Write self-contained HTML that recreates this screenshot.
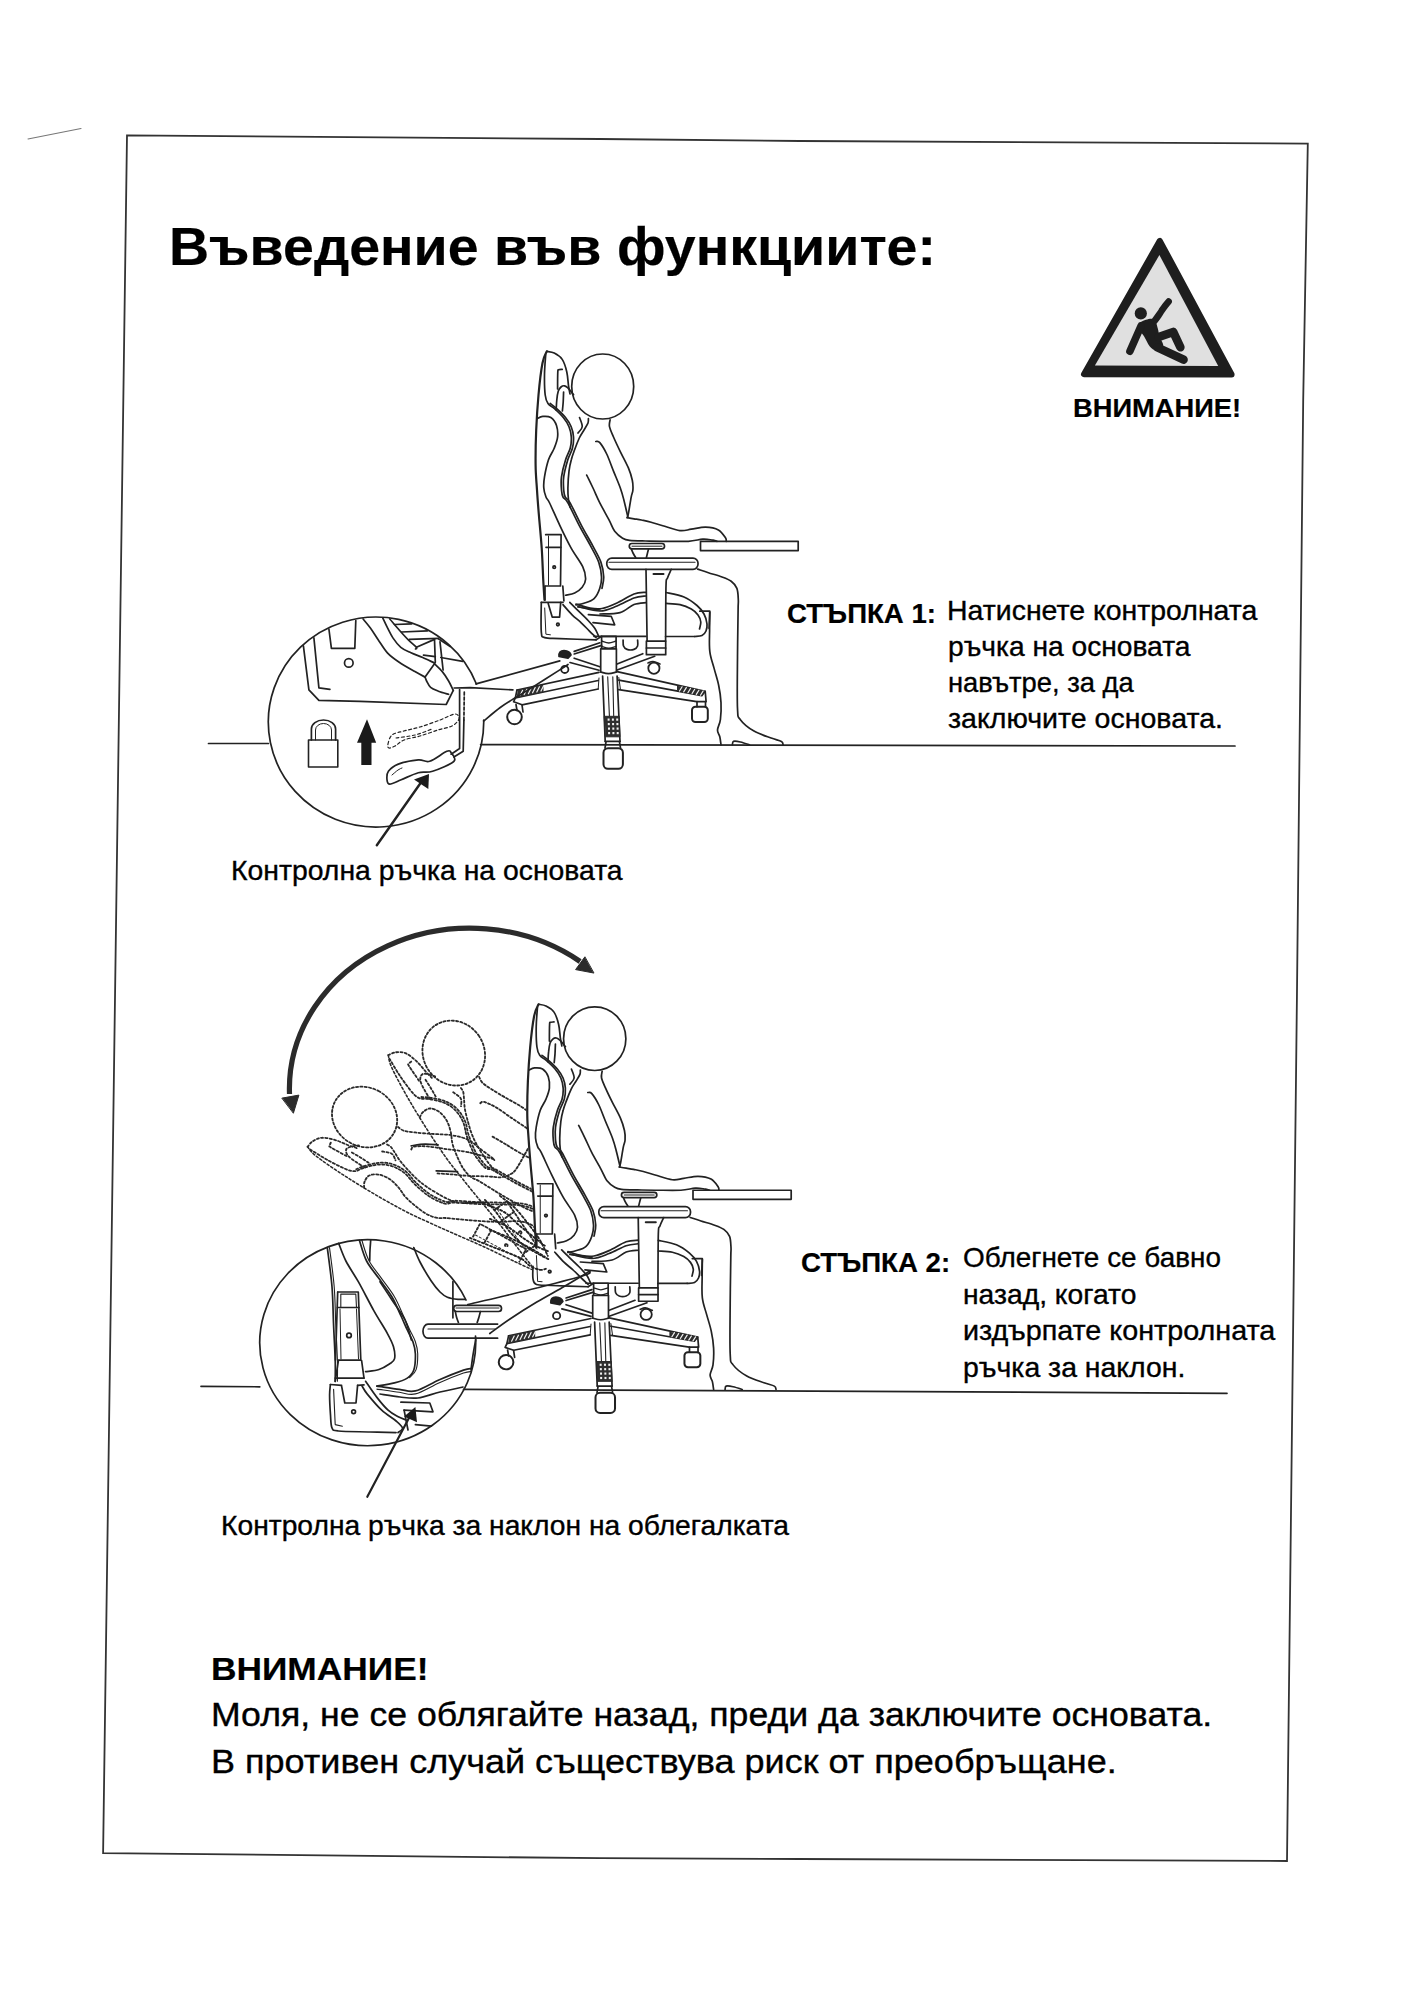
<!DOCTYPE html>
<html><head><meta charset="utf-8">
<style>
html,body{margin:0;padding:0;}
body{width:1403px;height:2000px;background:#ffffff;position:relative;overflow:hidden;font-family:"Liberation Sans",sans-serif;color:#000;}
.t{position:absolute;white-space:nowrap;line-height:1;transform-origin:0 0;-webkit-text-stroke:0.35px #000;}
.b{font-weight:bold;-webkit-text-stroke:0.2px #000;}
svg{position:absolute;left:0;top:0;}
</style></head><body>
<svg width="1403" height="2000" viewBox="0 0 1403 2000" fill="none" stroke="#222" stroke-width="1.7" stroke-linejoin="round" stroke-linecap="round">
<path d="M127 135.3 L600 139 L800 141 L1307.8 143.6 L1303.2 400 L1296.9 1000 L1287 1861 L800 1859 L600 1858.2 L103.1 1853.1 Z" stroke-width="1.8" stroke="#333" stroke-linejoin="miter"/>
<path d="M28 139 L81 128.5" stroke-width="1.1" stroke="#777"/>
<path d="M1159.8 240.8 L1084 374.2 L1231.6 374.5Z" fill="#1e1e1e" stroke="#1e1e1e" stroke-width="6" stroke-linejoin="round"/>
<path d="M1159.4 254.9 L1094.9 365.6 L1218.2 366.1Z" fill="#e0e0e0" stroke="none"/>
<circle cx="1140.8" cy="313.4" r="6.1" fill="#1e1e1e" stroke="none"/>
<path d="M1138.9 324.0C1139.8 322.0 1143.3 320.6 1145.9 319.8C1148.5 319.1 1152.3 318.1 1154.3 319.5C1156.3 320.9 1156.9 325.7 1157.8 328.5C1158.7 331.3 1158.5 333.3 1159.4 336.2C1160.3 339.1 1163.7 343.4 1163.2 345.8C1162.7 348.2 1158.4 350.2 1156.2 350.3C1154.0 350.4 1151.8 348.8 1149.8 346.4C1147.8 344.0 1145.5 338.6 1144.0 336.2C1142.5 333.8 1141.6 333.7 1140.8 331.7C1140.0 329.7 1138.1 326.0 1138.9 324.0Z" fill="#1e1e1e" stroke="none"/>
<g stroke="#1e1e1e" stroke-linecap="round" stroke-linejoin="round" fill="none">
<path d="M1141 326 L1129.9 351.3" stroke-width="7.5"/>
<path d="M1154.5 321.0C1155.2 320.1 1157.3 317.2 1158.5 315.5C1159.7 313.8 1160.4 312.6 1161.5 311.0C1162.6 309.4 1163.8 307.6 1165.0 306.0C1166.2 304.4 1168.0 302.3 1168.6 301.6" stroke-width="6.6"/>
<path d="M1158.7 337 L1173.2 331.9 L1180.4 347.3" stroke-width="8.5"/>
<path d="M1157.5 347.5 L1183.6 359.7" stroke-width="8.5"/>
</g>
<path d="M546.8 351.4C546.1 353.3 543.9 355.7 542.5 363.0C541.1 370.3 539.5 383.8 538.5 395.0C537.5 406.2 536.7 418.3 536.2 430.0C535.7 441.7 535.5 455.0 535.6 465.0C535.7 475.0 536.5 481.8 537.0 490.0C537.5 498.2 538.0 504.3 538.8 514.0C539.6 523.7 540.9 536.5 541.7 548.0C542.5 559.5 542.9 574.3 543.4 583.0C543.9 591.7 544.3 597.2 544.5 600.0" stroke-width="2.2"/>
<path d="M546.8 351.4C548.0 351.7 551.6 351.8 554.2 353.1C556.8 354.4 560.1 356.2 562.2 359.4C564.3 362.5 565.8 367.6 566.8 372.0C567.8 376.4 568.0 381.9 568.5 385.6C569.0 389.3 569.8 392.6 570.0 394.0" />
<path d="M545.7 354.8C545.5 358.0 544.6 367.5 544.5 374.2C544.4 380.9 544.6 390.1 545.2 395.0C545.8 399.9 546.5 401.3 548.0 403.5C549.5 405.7 551.7 406.1 554.2 408.4C556.8 410.7 560.8 414.4 563.3 417.5C565.8 420.6 567.7 423.4 569.0 426.7C570.3 429.9 571.1 433.4 571.3 437.0C571.5 440.6 571.2 444.5 570.2 448.3C569.2 452.1 567.1 454.9 565.6 459.7C564.1 464.4 562.2 471.8 561.5 476.8C560.8 481.9 561.2 486.6 561.5 490.0C561.8 493.4 561.9 494.9 563.0 497.0C564.1 499.1 565.2 498.0 567.9 502.8C570.6 507.6 575.5 518.4 579.3 525.6C583.1 532.8 587.5 540.0 590.7 546.1C593.9 552.2 596.9 557.0 598.7 562.1C600.5 567.2 601.3 572.5 601.5 576.9C601.7 581.3 601.0 584.7 599.8 588.3C598.6 591.9 596.8 596.1 594.1 598.6C591.5 601.1 586.9 602.2 583.9 603.2C580.9 604.2 577.2 604.6 575.9 604.9" />
<path d="M550.2 403.5C551.2 404.3 553.9 406.1 556.4 408.4C559.0 410.7 563.0 414.4 565.5 417.5C568.0 420.6 569.9 423.4 571.2 426.7C572.5 429.9 573.3 433.4 573.5 437.0C573.7 440.6 573.4 444.5 572.4 448.3C571.5 452.1 569.3 454.9 567.8 459.7C566.4 464.4 564.4 471.8 563.7 476.8C563.0 481.9 563.5 486.6 563.7 490.0C564.0 493.4 564.1 494.9 565.2 497.0C566.3 499.1 567.4 498.0 570.1 502.8C572.8 507.6 577.7 518.4 581.5 525.6C585.3 532.8 589.7 540.0 592.9 546.1C596.1 552.2 599.1 557.0 600.9 562.1C602.7 567.2 603.5 572.5 603.7 576.9C603.9 581.3 602.3 586.4 602.0 588.3" />
<path d="M537.1 418.7C538.0 418.3 540.5 416.6 542.8 416.4C545.1 416.2 548.5 416.0 550.8 417.5C553.1 419.0 555.4 422.2 556.5 425.5C557.6 428.8 558.0 433.2 557.6 437.0C557.2 440.8 555.7 444.5 554.2 448.3C552.7 452.1 550.1 454.9 548.5 459.7C546.9 464.4 545.3 472.1 544.5 476.8C543.7 481.5 543.5 484.6 543.8 488.0C544.0 491.4 545.0 494.5 546.0 497.0C547.0 499.5 547.3 498.2 549.6 503.0C551.9 507.8 556.3 518.0 559.9 525.6C563.5 533.2 567.5 541.5 571.3 548.4C575.1 555.2 580.3 561.6 582.7 566.7C585.1 571.8 585.7 575.8 585.6 579.2C585.5 582.6 584.0 584.9 582.2 587.2C580.4 589.5 577.5 591.6 574.7 592.9C571.9 594.2 567.1 594.8 565.6 595.2" />
<path d="M557.6 389.0C557.6 386.2 557.6 375.2 557.8 372.0C558.0 368.8 557.9 370.2 558.6 369.8C559.3 369.4 561.6 369.5 562.2 369.4" />
<path d="M556.2 410.0C556.3 408.3 556.4 403.2 556.8 400.0C557.1 396.8 557.6 393.2 558.3 391.0C559.0 388.8 560.0 387.9 561.0 387.0C562.0 386.1 563.3 385.6 564.5 385.8C565.7 386.0 566.9 387.1 568.0 388.0C569.1 388.9 570.1 390.4 571.0 391.5C571.9 392.6 573.2 394.2 573.6 394.7" />
<path d="M563.6 392.0C563.5 393.7 563.4 398.8 563.2 402.0C563.0 405.2 562.5 409.5 562.4 411.0" />
<ellipse cx="602.7" cy="386.5" rx="31" ry="32.5"/>
<path d="M588.4 418.5C588.3 419.2 588.7 421.1 588.0 423.0C587.3 424.9 585.5 427.5 584.0 430.0C582.5 432.5 580.8 434.8 579.3 438.0C577.8 441.2 576.0 445.9 574.7 449.5C573.4 453.1 572.2 456.1 571.3 459.7C570.3 463.3 569.6 466.4 569.0 471.1C568.4 475.9 568.0 483.4 567.9 488.2C567.8 493.0 568.1 496.8 568.5 500.0C568.9 503.2 569.9 506.2 570.2 507.4" />
<path d="M579.5 417.5C580.0 419.0 582.5 424.1 582.2 426.7C582.0 429.3 578.7 431.9 578.0 433.0" />
<path d="M610.1 419.8C610.0 420.9 608.9 423.8 609.5 426.7C610.1 429.6 611.7 432.8 613.5 437.0C615.3 441.2 617.9 446.7 620.4 451.8C622.9 456.9 626.3 462.9 628.3 467.7C630.3 472.4 631.5 476.6 632.3 480.3C633.1 484.0 633.1 487.2 632.9 490.0C632.7 492.8 632.0 493.1 631.2 497.1C630.4 501.1 629.0 510.8 628.3 514.2C627.6 517.6 627.4 517.0 627.2 517.6" />
<path d="M595.8 441.5C596.5 441.7 598.0 440.5 599.8 442.6C601.6 444.7 604.4 449.2 606.7 454.0C609.0 458.8 611.2 465.4 613.5 471.1C615.8 476.8 618.7 483.4 620.4 488.2C622.1 493.0 622.6 495.0 623.8 499.7C625.0 504.4 627.1 513.7 627.8 516.5" />
<path d="M586.7 475.1C587.8 477.2 590.8 483.4 593.0 488.0C595.2 492.6 597.1 497.5 599.8 502.8C602.5 508.1 606.5 515.1 609.0 519.9C611.5 524.6 612.4 528.2 614.7 531.3C617.0 534.3 620.1 536.7 622.6 538.2C625.1 539.7 625.7 539.9 629.5 540.4C633.3 540.9 639.9 540.9 645.4 541.0C650.9 541.1 655.6 541.2 662.8 541.3C670.0 541.3 681.8 541.6 688.4 541.3C695.0 540.9 698.9 539.4 702.7 539.2C706.5 539.0 708.8 539.5 711.2 539.9C713.6 540.2 716.0 541.1 717.0 541.3" />
<path d="M545.7 534.7 L561.1 534.7 L560.5 586.0 L545.5 586.0" />
<path d="M546.0 547.3 L560.8 547.3" />
<path d="M548.5 536.0 L548.5 585.0" stroke-width="1"/>
<circle cx="554.2" cy="567.2" r="1.3"/>
<path d="M627.2 517.6C628.3 517.8 631.6 518.4 634.0 518.8C636.4 519.2 638.5 519.4 641.4 520.0C644.2 520.6 647.5 521.2 651.1 522.2C654.7 523.2 658.0 524.3 662.8 525.7C667.6 527.1 675.1 530.0 679.9 530.6C684.6 531.2 687.0 529.8 691.3 529.2C695.6 528.6 701.0 527.0 705.5 527.1C710.0 527.2 715.1 528.1 718.4 529.9C721.7 531.7 724.2 535.9 725.5 537.8C726.8 539.7 726.1 540.7 726.2 541.3" />
<rect x="700.5" y="541.3" width="97.7" height="9.3"/>
<path d="M697.7 569.1C699.5 569.7 704.4 571.4 708.4 572.7C712.4 574.0 718.2 575.6 722.0 577.0C725.8 578.4 728.7 579.4 731.2 581.3C733.7 583.2 735.7 585.3 736.9 588.4C738.1 591.5 738.1 596.2 738.3 599.8C738.5 603.4 738.2 600.5 738.1 610.0C738.0 619.5 737.6 640.6 737.5 657.0C737.4 673.4 737.0 697.8 737.5 708.3C738.0 718.8 737.6 715.9 740.4 719.7C743.1 723.5 748.9 728.1 754.0 731.1C759.1 734.1 766.5 736.3 771.1 738.0C775.7 739.7 779.4 740.3 781.4 741.4C783.4 742.5 782.8 744.2 783.1 744.8" />
<path d="M709.8 612.0C709.8 615.0 709.6 623.5 709.6 630.0C709.6 636.5 709.0 644.9 709.8 651.3C710.5 657.7 712.6 662.7 714.1 668.4C715.6 674.1 717.6 679.8 718.7 685.5C719.9 691.2 720.7 696.9 721.0 702.6C721.3 708.3 721.0 715.1 720.4 719.7C719.8 724.3 717.6 727.1 717.5 730.0C717.4 732.9 719.2 734.3 719.8 736.8C720.4 739.3 720.8 743.5 721.0 744.8" />
<path d="M732.4 744.8C732.6 744.2 732.2 741.9 733.5 741.4C734.8 740.9 737.7 741.4 740.4 742.0C743.1 742.6 748.0 744.3 749.5 744.8" />
<rect x="629.3" y="543.5" width="35.2" height="5.3" rx="2.6"/>
<path d="M632.0 546.2 L662.0 546.2" stroke-width="1"/>
<path d="M631.4 549.2C631.7 549.8 632.3 551.6 633.0 553.0C633.7 554.4 635.2 556.8 635.7 557.5" />
<path d="M648.5 549.2C648.3 549.8 647.9 551.6 647.5 553.0C647.1 554.4 646.6 556.8 646.4 557.5" />
<rect x="606.8" y="558.1" width="91.2" height="11.2" rx="5"/>
<path d="M609.0 562.3 L695.0 562.3" stroke-width="1.1"/>
<path d="M646.0 569.3 L647.1 641.1" />
<path d="M671.3 569.3C670.7 570.8 668.4 575.2 667.5 578.0C666.6 580.8 666.3 575.5 666.0 586.0C665.7 596.5 665.7 631.9 665.6 641.1" />
<path d="M653.5 574.1 L663.5 574.1" stroke-width="2"/>
<rect x="646.4" y="641.1" width="19.3" height="13.6"/>
<path d="M646.4 648.0 L665.7 648.0" />
<path d="M576.0 604.0C578.3 604.7 585.7 607.2 590.0 608.0C594.3 608.8 597.5 609.3 602.0 608.5C606.5 607.7 611.7 605.4 617.0 603.0C622.3 600.6 629.2 595.8 634.0 594.0C638.8 592.2 644.0 592.6 646.0 592.3" />
<path d="M578.0 606.5C581.7 607.2 593.5 611.1 600.0 611.0C606.5 610.9 611.3 608.2 617.0 606.0C622.7 603.8 629.2 599.7 634.0 598.0C638.8 596.3 644.0 596.3 646.0 596.0" />
<path d="M600.0 614.0C603.3 613.8 614.3 614.2 620.0 612.6C625.7 611.0 629.7 606.2 634.0 604.5C638.3 602.8 644.0 602.9 646.0 602.6" />
<path d="M666.0 592.5C669.0 593.2 678.8 594.8 684.0 597.0C689.2 599.2 693.7 602.7 697.0 605.5C700.3 608.3 702.3 610.9 704.0 614.0C705.7 617.1 706.7 621.2 707.0 624.0C707.3 626.8 706.8 629.1 706.0 631.0C705.2 632.9 703.9 634.6 702.0 635.5C700.1 636.4 695.9 636.3 694.7 636.5" />
<path d="M666.0 603.4C668.3 603.6 675.8 603.6 680.0 604.6C684.2 605.6 688.3 607.4 691.3 609.1C694.3 610.8 696.4 612.9 698.0 615.0C699.6 617.1 700.5 619.7 700.8 622.0C701.0 624.3 699.7 627.8 699.5 629.0" />
<path d="M594.0 636.3 L646.0 636.3" />
<path d="M665.6 636.5 L694.7 636.5" />
<path d="M699.8 611.2 L709.8 611.2 L709.1 628.3" />
<path d="M545.0 586.0 L545.0 600.0" />
<path d="M562.8 586.0 L563.9 600.9" />
<path d="M541.3 602.3C541.3 607.2 540.7 626.0 541.3 631.9C541.9 637.8 541.6 636.5 544.7 637.6C547.8 638.7 551.4 638.2 560.0 638.6C568.6 639.0 590.1 639.7 596.1 639.9" />
<path d="M541.3 602.3 L563.0 602.3" />
<path d="M548.2 603.4 L552.2 617.1 L559.6 617.1 L560.7 602.3" />
<circle cx="557.9" cy="624.5" r="1.3"/>
<path d="M544.7 608.0 L545.9 634.2 L550.4 634.8" stroke-width="1"/>
<path d="M563.0 604.6C564.5 606.3 569.1 611.8 572.1 614.8C575.1 617.8 578.4 620.1 581.2 622.8C584.1 625.5 586.7 628.3 589.2 630.8C591.7 633.3 595.0 636.5 596.1 637.6" />
<path d="M569.8 602.3C571.3 603.8 575.8 608.4 578.9 611.4C582.0 614.4 585.4 617.6 588.1 620.5C590.8 623.4 593.2 626.0 594.9 628.5C596.6 631.0 597.7 634.2 598.3 635.4" />
<path d="M588.4 614.6 L611.2 616.3 L614.7 624.8 L593.0 622.6" />
<path d="M578.0 607.0 L600.0 610.0" />
<path d="M596.1 639.9 L601.6 636.3" />
<rect x="601.6" y="636.3" width="14.5" height="12.5"/>
<path d="M601.8 641.0C603.0 641.3 606.4 643.0 608.8 643.0C611.1 643.0 614.7 641.3 615.9 641.0" stroke-width="1.3"/>
<path d="M601.8 646.5C603.0 646.8 606.4 648.2 608.8 648.2C611.1 648.2 614.7 646.8 615.9 646.5" stroke-width="1.3"/>
<path d="M600.7 648.8 L600.7 672.0" />
<path d="M616.4 648.8 L616.4 672.0" />
<path d="M600.7 672.0C602.0 672.3 605.9 673.6 608.5 673.6C611.1 673.6 615.1 672.3 616.4 672.0" />
<path d="M623.1 640.0C623.2 641.0 622.9 644.4 623.5 646.0C624.1 647.6 625.2 648.8 627.0 649.4C628.8 650.0 632.2 650.0 634.0 649.4C635.8 648.8 637.0 647.6 637.6 646.0C638.2 644.4 637.6 641.0 637.6 640.0" />
<path d="M602.6 676.0 L605.2 741.4" />
<path d="M617.1 676.0 L620.0 741.4" />
<path d="M607.7 676.8 L609.4 716.0" stroke-width="1.1"/>
<path d="M612.8 676.8 L613.7 716.0" stroke-width="1.1"/>
<path d="M599.0 678.0 L598.2 689.0" stroke-width="1"/>
<path d="M618.8 677.5 L620.4 689.0" stroke-width="1"/>
<path d="M604.6 716.3 L619.2 716.3 L620 736.8 L605.6 736.8Z" fill="#2e2e2e" stroke="#2a2a2a" stroke-width="1"/>
<rect x="607.6" y="718.5" width="2" height="2.2" fill="#f2f2f2" stroke="none"/>
<rect x="611.9" y="718.5" width="2" height="2.2" fill="#f2f2f2" stroke="none"/>
<rect x="616.2" y="718.5" width="2" height="2.2" fill="#f2f2f2" stroke="none"/>
<rect x="607.8" y="723" width="2" height="2.2" fill="#f2f2f2" stroke="none"/>
<rect x="612.1" y="723" width="2" height="2.2" fill="#f2f2f2" stroke="none"/>
<rect x="616.4" y="723" width="2" height="2.2" fill="#f2f2f2" stroke="none"/>
<rect x="608.0" y="727.5" width="2" height="2.2" fill="#f2f2f2" stroke="none"/>
<rect x="612.3" y="727.5" width="2" height="2.2" fill="#f2f2f2" stroke="none"/>
<rect x="616.6" y="727.5" width="2" height="2.2" fill="#f2f2f2" stroke="none"/>
<rect x="608.1" y="732" width="2" height="2.2" fill="#f2f2f2" stroke="none"/>
<rect x="612.4" y="732" width="2" height="2.2" fill="#f2f2f2" stroke="none"/>
<rect x="616.7" y="732" width="2" height="2.2" fill="#f2f2f2" stroke="none"/>
<path d="M605.2 741.4 L620.0 741.4" />
<rect x="603.5" y="748.2" width="19.4" height="20.6" rx="4.5" stroke-width="2"/>
<path d="M606.0 742.0 L605.0 748.0" />
<path d="M619.5 742.0 L620.5 748.0" />
<path d="M599.0 672.3 L517.0 690.0" />
<path d="M598.2 680.5 L515.3 698.0 L513.6 701.8 L522.1 704.8 L598.2 689.0" />
<path d="M517.8 690 L543.5 684.6 L543.5 692.2 L516.5 697.8Z" fill="#2e2e2e" stroke="none"/>
<path d="M520.0 695.5 L522.6 690.3" stroke="#f2f2f2" stroke-width="1.2"/>
<path d="M524.2 694.6 L526.8 689.4" stroke="#f2f2f2" stroke-width="1.2"/>
<path d="M528.4 693.7 L531.0 688.5" stroke="#f2f2f2" stroke-width="1.2"/>
<path d="M532.6 692.8 L535.2 687.6" stroke="#f2f2f2" stroke-width="1.2"/>
<path d="M536.8 691.9 L539.4 686.7" stroke="#f2f2f2" stroke-width="1.2"/>
<path d="M541.0 691.0 L543.6 685.8" stroke="#f2f2f2" stroke-width="1.2"/>
<path d="M517.0 690.0 L515.3 698.0" />
<circle cx="514.5" cy="717" r="7.3" stroke-width="2"/>
<path d="M516.0 704.5 L517.0 710.5" />
<path d="M522.0 705.0 L523.0 712.0" />
<path d="M574.2 658.2 L599.9 666.8" />
<path d="M570.0 662.5 L599.0 670.2" />
<circle cx="564.8" cy="669.4" r="3.6" stroke-width="1.8"/>
<path d="M559 656.5 Q558.5 650.5 564 650.5 Q570 651 571 655 L568 658.2 Z" fill="#222"/>
<path d="M617.1 671.7 L705.2 691.3 L706.1 701.6 L696.7 701.6 L618.8 689.6" />
<path d="M618.8 680.2 L701.8 695.6 L705.2 691.3" />
<path d="M677 685.8 L705.2 691.3 L701.8 695.6 L677 690.8Z" fill="#2e2e2e" stroke="none"/>
<path d="M679.5 691.0 L682.1 686.8" stroke="#f2f2f2" stroke-width="1.2"/>
<path d="M683.7 691.9 L686.3 687.6" stroke="#f2f2f2" stroke-width="1.2"/>
<path d="M687.9 692.7 L690.5 688.5" stroke="#f2f2f2" stroke-width="1.2"/>
<path d="M692.1 693.5 L694.7 689.3" stroke="#f2f2f2" stroke-width="1.2"/>
<path d="M696.3 694.4 L698.9 690.2" stroke="#f2f2f2" stroke-width="1.2"/>
<path d="M700.5 695.2 L703.1 691.0" stroke="#f2f2f2" stroke-width="1.2"/>
<rect x="692" y="706.7" width="15.8" height="15.4" rx="3.5" stroke-width="2"/>
<path d="M697.0 701.6 L697.0 706.7" />
<path d="M705.5 701.6 L705.5 706.7" />
<path d="M617.1 664.0 L642.8 653.7" />
<path d="M617.1 670.0 L654.7 656.3" />
<circle cx="653.9" cy="668.2" r="5.6" stroke-width="1.8"/>
<path d="M648.0 663.0C648.8 662.8 651.0 661.3 653.0 661.5C655.0 661.7 658.8 663.6 660.0 664.0" />
<path d="M574.2 654.0 L601.6 645.4" />
<path d="M574.2 651.4 L599.9 642.8" />
<path d="M208.5 743.5 L268.4 743.5" stroke-width="1.7"/>
<path d="M480.6 744.6 L1235.0 746.0" stroke-width="1.7"/>
<path d="M483.7 720 A107.7 105 0 1 1 476.4 684" stroke-width="1.7"/>
<path d="M476.0 683.9 L559.8 660.9" />
<path d="M483.7 721.0C486.4 718.8 495.2 711.3 499.9 707.8C504.6 704.3 506.9 703.0 511.9 699.9C516.9 696.8 521.9 693.9 529.9 688.9C537.9 683.9 553.4 674.0 559.8 669.9C566.1 665.8 566.6 665.4 568.0 664.5" />
<path d="M454.1 688.0 L470.0 687.7 L512.9 689.9" />
<path d="M303.4 645.9 L308.9 689.8 L318.9 700.3 L360.0 701.4 L446.2 704.5 L453.3 690.4" />
<path d="M313.9 637.9 L318.9 687.8 L329.9 689.3" />
<path d="M328.9 629.0 L331.4 648.4 L354.8 648.4 L355.8 620.5" />
<circle cx="348.8" cy="662.9" r="4.3"/>
<path d="M363.1 619.0C364.3 620.5 367.7 624.3 370.2 627.7C372.7 631.1 375.1 635.2 378.0 639.4C380.9 643.6 383.9 649.0 387.4 652.8C390.9 656.6 394.6 659.1 399.2 662.2C403.8 665.3 410.6 669.1 414.9 671.6C419.2 674.1 423.4 676.2 425.1 677.1" />
<path d="M425.1 677.1C425.4 677.8 425.7 679.3 426.6 681.0C427.5 682.7 428.6 685.6 430.6 687.3C432.6 689.0 435.4 690.0 438.4 691.2C441.4 692.4 446.9 693.8 448.6 694.3" />
<path d="M382.7 617.9C383.5 619.5 385.7 624.4 387.4 627.7C389.1 631.0 390.7 634.6 392.9 637.9C395.1 641.2 397.8 644.8 400.8 647.3C403.8 649.8 407.4 651.1 411.0 652.8C414.6 654.5 418.8 655.8 422.7 657.5C426.6 659.2 432.5 662.1 434.5 663.0" />
<path d="M425.1 677.1 L434.5 663.7" />
<path d="M434.5 663.7C435.8 665.0 439.9 668.7 442.3 671.6C444.7 674.5 446.8 677.9 448.6 681.0C450.4 684.1 452.5 688.8 453.3 690.4" />
<path d="M389.8 619.0C391.4 620.8 396.1 626.5 399.2 630.0C402.3 633.5 405.7 637.3 408.6 640.2C411.5 643.1 415.2 645.8 416.4 647.3C417.5 648.8 415.6 648.7 415.5 649.0" />
<path d="M394.5 624.5 L411.7 623.8" />
<path d="M401.6 632.0 L427.4 630.8" />
<path d="M409.4 639.4 L438.4 638.3" />
<path d="M416.4 647.3 L434.5 639.4" />
<path d="M438.4 638.7 L450.2 646.5" />
<path d="M440.8 657.5 L462.7 661.4" />
<path d="M423.5 655.1 L435.3 656.7" />
<path d="M434.5 639.4 L435.3 662.2" />
<path d="M440.0 641.8 L443.1 670.0" />
<path d="M311.4 740 L311.4 729 A12.1 9 0 0 1 335.6 729 L335.6 740" />
<path d="M315.5 740 L315.5 730 A8 6.5 0 0 1 331.5 730 L331.5 740" stroke-width="1"/>
<rect x="308.5" y="740" width="29.3" height="27" stroke-width="1.6"/>
<path d="M367 719.2 L376.2 742.8 L371.5 742.8 L371.5 764.9 L361.3 764.9 L361.3 742.8 L357 742.8Z" fill="#1a1a1a" stroke="none"/>
<path d="M451.1 754.2 L459.6 748.5 L459.6 689.6" />
<path d="M453.9 757.0 L463.2 751.3 L463.9 720.0" />
<path d="M463.9 720.0 L464.3 691.2" stroke-dasharray="3 2"/>
<path d="M388.4 771.3C390.3 768.7 393.3 766.0 398.3 764.1C403.3 762.2 413.1 760.4 418.3 759.9C423.5 759.4 424.9 762.7 429.7 761.3C434.4 759.9 443.2 752.7 446.8 751.3C450.4 749.9 449.9 751.0 451.1 752.7C452.3 754.4 457.0 758.2 453.9 761.3C450.8 764.4 438.5 769.4 432.6 771.3C426.7 773.2 423.5 771.3 418.3 772.7C413.1 774.1 405.9 777.9 401.2 779.8C396.4 781.7 392.2 784.1 389.8 784.1C387.4 784.1 387.2 781.9 387.0 779.8C386.8 777.7 386.5 773.9 388.4 771.3Z" stroke-width="1.7"/>
<path d="M392.0 775.0C393.0 774.2 396.3 771.2 398.0 770.0C399.7 768.8 401.3 768.3 402.0 768.0" stroke-width="1"/>
<path d="M388.0 744.0C388.5 741.8 389.3 737.2 392.0 735.0C394.7 732.8 399.3 732.3 404.0 731.0C408.7 729.7 414.0 728.8 420.0 727.0C426.0 725.2 434.2 722.2 440.0 720.0C445.8 717.8 451.8 714.2 455.0 714.0C458.2 713.8 459.5 717.0 459.0 719.0C458.5 721.0 455.5 724.2 452.0 726.0C448.5 727.8 443.3 728.3 438.0 730.0C432.7 731.7 425.7 734.3 420.0 736.0C414.3 737.7 408.2 738.3 404.0 740.0C399.8 741.7 397.5 744.7 395.0 746.0C392.5 747.3 390.2 748.3 389.0 748.0C387.8 747.7 387.5 746.2 388.0 744.0Z" stroke-dasharray="3 2.5" stroke-width="1.2"/>
<path d="M396.0 738.0C399.2 737.5 409.0 736.5 415.0 735.0C421.0 733.5 429.2 730.0 432.0 729.0" stroke-dasharray="3 2.5" stroke-width="1.1"/>
<path d="M376.8 845.2 L422.0 781.0" stroke-width="2.4"/>
<path d="M429 774.1 L414 779.5 L428.3 789.1Z" fill="#1a1a1a" stroke="none"/>
<clipPath id="gclip"><path d="M100.0 900.0 L537.5 900.0 L537.5 1004.3 L533.2 1015.7 L529.2 1047.0 L526.9 1081.3 L526.3 1115.5 L527.7 1140.0 L529.5 1163.5 L532.4 1196.8 L534.1 1231.0 L535.2 1247.7 L560.0 1262.0 L560.0 1300.0 L100.0 1300.0Z"/></clipPath>
<g clip-path="url(#gclip)"><g transform="matrix(0.8002 -0.5623 0.5961 0.8594 -641.29 494.84)" stroke-dasharray="2.1 2.2" stroke-width="1.85" stroke="#2a2a2a"><g transform="matrix(1.005 0 0 0.979 -11 660.29)"><path d="M546.8 351.4C546.1 353.3 543.9 355.7 542.5 363.0C541.1 370.3 539.5 383.8 538.5 395.0C537.5 406.2 536.7 418.3 536.2 430.0C535.7 441.7 535.5 455.0 535.6 465.0C535.7 475.0 536.5 481.8 537.0 490.0C537.5 498.2 538.0 504.3 538.8 514.0C539.6 523.7 540.9 536.5 541.7 548.0C542.5 559.5 542.9 574.3 543.4 583.0C543.9 591.7 544.3 597.2 544.5 600.0" stroke-width="1.6"/>
<path d="M546.8 351.4C548.0 351.7 551.6 351.8 554.2 353.1C556.8 354.4 560.1 356.2 562.2 359.4C564.3 362.5 565.8 367.6 566.8 372.0C567.8 376.4 568.0 381.9 568.5 385.6C569.0 389.3 569.8 392.6 570.0 394.0" />
<path d="M545.7 354.8C545.5 358.0 544.6 367.5 544.5 374.2C544.4 380.9 544.6 390.1 545.2 395.0C545.8 399.9 546.5 401.3 548.0 403.5C549.5 405.7 551.7 406.1 554.2 408.4C556.8 410.7 560.8 414.4 563.3 417.5C565.8 420.6 567.7 423.4 569.0 426.7C570.3 429.9 571.1 433.4 571.3 437.0C571.5 440.6 571.2 444.5 570.2 448.3C569.2 452.1 567.1 454.9 565.6 459.7C564.1 464.4 562.2 471.8 561.5 476.8C560.8 481.9 561.2 486.6 561.5 490.0C561.8 493.4 561.9 494.9 563.0 497.0C564.1 499.1 565.2 498.0 567.9 502.8C570.6 507.6 575.5 518.4 579.3 525.6C583.1 532.8 587.5 540.0 590.7 546.1C593.9 552.2 596.9 557.0 598.7 562.1C600.5 567.2 601.3 572.5 601.5 576.9C601.7 581.3 601.0 584.7 599.8 588.3C598.6 591.9 596.8 596.1 594.1 598.6C591.5 601.1 586.9 602.2 583.9 603.2C580.9 604.2 577.2 604.6 575.9 604.9" />
<path d="M550.2 403.5C551.2 404.3 553.9 406.1 556.4 408.4C559.0 410.7 563.0 414.4 565.5 417.5C568.0 420.6 569.9 423.4 571.2 426.7C572.5 429.9 573.3 433.4 573.5 437.0C573.7 440.6 573.4 444.5 572.4 448.3C571.5 452.1 569.3 454.9 567.8 459.7C566.4 464.4 564.4 471.8 563.7 476.8C563.0 481.9 563.5 486.6 563.7 490.0C564.0 493.4 564.1 494.9 565.2 497.0C566.3 499.1 567.4 498.0 570.1 502.8C572.8 507.6 577.7 518.4 581.5 525.6C585.3 532.8 589.7 540.0 592.9 546.1C596.1 552.2 599.1 557.0 600.9 562.1C602.7 567.2 603.5 572.5 603.7 576.9C603.9 581.3 602.3 586.4 602.0 588.3" />
<path d="M537.1 418.7C538.0 418.3 540.5 416.6 542.8 416.4C545.1 416.2 548.5 416.0 550.8 417.5C553.1 419.0 555.4 422.2 556.5 425.5C557.6 428.8 558.0 433.2 557.6 437.0C557.2 440.8 555.7 444.5 554.2 448.3C552.7 452.1 550.1 454.9 548.5 459.7C546.9 464.4 545.3 472.1 544.5 476.8C543.7 481.5 543.5 484.6 543.8 488.0C544.0 491.4 545.0 494.5 546.0 497.0C547.0 499.5 547.3 498.2 549.6 503.0C551.9 507.8 556.3 518.0 559.9 525.6C563.5 533.2 567.5 541.5 571.3 548.4C575.1 555.2 580.3 561.6 582.7 566.7C585.1 571.8 585.7 575.8 585.6 579.2C585.5 582.6 584.0 584.9 582.2 587.2C580.4 589.5 577.5 591.6 574.7 592.9C571.9 594.2 567.1 594.8 565.6 595.2" />
<path d="M557.6 389.0C557.6 386.2 557.6 375.2 557.8 372.0C558.0 368.8 557.9 370.2 558.6 369.8C559.3 369.4 561.6 369.5 562.2 369.4" />
<path d="M556.2 410.0C556.3 408.3 556.4 403.2 556.8 400.0C557.1 396.8 557.6 393.2 558.3 391.0C559.0 388.8 560.0 387.9 561.0 387.0C562.0 386.1 563.3 385.6 564.5 385.8C565.7 386.0 566.9 387.1 568.0 388.0C569.1 388.9 570.1 390.4 571.0 391.5C571.9 392.6 573.2 394.2 573.6 394.7" />
<path d="M563.6 392.0C563.5 393.7 563.4 398.8 563.2 402.0C563.0 405.2 562.5 409.5 562.4 411.0" />
<ellipse cx="602.7" cy="386.5" rx="31" ry="32.5"/>
<path d="M588.4 418.5C588.3 419.2 588.7 421.1 588.0 423.0C587.3 424.9 585.5 427.5 584.0 430.0C582.5 432.5 580.8 434.8 579.3 438.0C577.8 441.2 576.0 445.9 574.7 449.5C573.4 453.1 572.2 456.1 571.3 459.7C570.3 463.3 569.6 466.4 569.0 471.1C568.4 475.9 568.0 483.4 567.9 488.2C567.8 493.0 568.1 496.8 568.5 500.0C568.9 503.2 569.9 506.2 570.2 507.4" />
<path d="M579.5 417.5C580.0 419.0 582.5 424.1 582.2 426.7C582.0 429.3 578.7 431.9 578.0 433.0" />
<path d="M610.1 419.8C610.0 420.9 608.9 423.8 609.5 426.7C610.1 429.6 611.7 432.8 613.5 437.0C615.3 441.2 617.9 446.7 620.4 451.8C622.9 456.9 626.3 462.9 628.3 467.7C630.3 472.4 631.5 476.6 632.3 480.3C633.1 484.0 633.1 487.2 632.9 490.0C632.7 492.8 632.0 493.1 631.2 497.1C630.4 501.1 629.0 510.8 628.3 514.2C627.6 517.6 627.4 517.0 627.2 517.6" />
<path d="M595.8 441.5C596.5 441.7 598.0 440.5 599.8 442.6C601.6 444.7 604.4 449.2 606.7 454.0C609.0 458.8 611.2 465.4 613.5 471.1C615.8 476.8 618.7 483.4 620.4 488.2C622.1 493.0 622.6 495.0 623.8 499.7C625.0 504.4 627.1 513.7 627.8 516.5" />
<path d="M586.7 475.1C587.8 477.2 590.8 483.4 593.0 488.0C595.2 492.6 597.1 497.5 599.8 502.8C602.5 508.1 606.5 515.1 609.0 519.9C611.5 524.6 612.4 528.2 614.7 531.3C617.0 534.3 620.1 536.7 622.6 538.2C625.1 539.7 625.7 539.9 629.5 540.4C633.3 540.9 639.9 540.9 645.4 541.0C650.9 541.1 655.6 541.2 662.8 541.3C670.0 541.3 681.8 541.6 688.4 541.3C695.0 540.9 698.9 539.4 702.7 539.2C706.5 539.0 708.8 539.5 711.2 539.9C713.6 540.2 716.0 541.1 717.0 541.3" />
<path d="M545.7 534.7 L561.1 534.7 L560.5 586.0 L545.5 586.0" />
<path d="M546.0 547.3 L560.8 547.3" />
<path d="M548.5 536.0 L548.5 585.0" stroke-width="1"/>
<circle cx="554.2" cy="567.2" r="1.3"/></g></g></g>
<g clip-path="url(#gclip)"><g transform="matrix(0.4494 -0.8336 0.9248 0.4956 -863.25 1098.01)" stroke-dasharray="2.1 2.2" stroke-width="1.85" stroke="#2a2a2a"><g transform="matrix(1.005 0 0 0.979 -11 660.29)"><path d="M546.8 351.4C546.1 353.3 543.9 355.7 542.5 363.0C541.1 370.3 539.5 383.8 538.5 395.0C537.5 406.2 536.7 418.3 536.2 430.0C535.7 441.7 535.5 455.0 535.6 465.0C535.7 475.0 536.5 481.8 537.0 490.0C537.5 498.2 538.0 504.3 538.8 514.0C539.6 523.7 540.9 536.5 541.7 548.0C542.5 559.5 542.9 574.3 543.4 583.0C543.9 591.7 544.3 597.2 544.5 600.0" stroke-width="1.6"/>
<path d="M546.8 351.4C548.0 351.7 551.6 351.8 554.2 353.1C556.8 354.4 560.1 356.2 562.2 359.4C564.3 362.5 565.8 367.6 566.8 372.0C567.8 376.4 568.0 381.9 568.5 385.6C569.0 389.3 569.8 392.6 570.0 394.0" />
<path d="M545.7 354.8C545.5 358.0 544.6 367.5 544.5 374.2C544.4 380.9 544.6 390.1 545.2 395.0C545.8 399.9 546.5 401.3 548.0 403.5C549.5 405.7 551.7 406.1 554.2 408.4C556.8 410.7 560.8 414.4 563.3 417.5C565.8 420.6 567.7 423.4 569.0 426.7C570.3 429.9 571.1 433.4 571.3 437.0C571.5 440.6 571.2 444.5 570.2 448.3C569.2 452.1 567.1 454.9 565.6 459.7C564.1 464.4 562.2 471.8 561.5 476.8C560.8 481.9 561.2 486.6 561.5 490.0C561.8 493.4 561.9 494.9 563.0 497.0C564.1 499.1 565.2 498.0 567.9 502.8C570.6 507.6 575.5 518.4 579.3 525.6C583.1 532.8 587.5 540.0 590.7 546.1C593.9 552.2 596.9 557.0 598.7 562.1C600.5 567.2 601.3 572.5 601.5 576.9C601.7 581.3 601.0 584.7 599.8 588.3C598.6 591.9 596.8 596.1 594.1 598.6C591.5 601.1 586.9 602.2 583.9 603.2C580.9 604.2 577.2 604.6 575.9 604.9" />
<path d="M550.2 403.5C551.2 404.3 553.9 406.1 556.4 408.4C559.0 410.7 563.0 414.4 565.5 417.5C568.0 420.6 569.9 423.4 571.2 426.7C572.5 429.9 573.3 433.4 573.5 437.0C573.7 440.6 573.4 444.5 572.4 448.3C571.5 452.1 569.3 454.9 567.8 459.7C566.4 464.4 564.4 471.8 563.7 476.8C563.0 481.9 563.5 486.6 563.7 490.0C564.0 493.4 564.1 494.9 565.2 497.0C566.3 499.1 567.4 498.0 570.1 502.8C572.8 507.6 577.7 518.4 581.5 525.6C585.3 532.8 589.7 540.0 592.9 546.1C596.1 552.2 599.1 557.0 600.9 562.1C602.7 567.2 603.5 572.5 603.7 576.9C603.9 581.3 602.3 586.4 602.0 588.3" />
<path d="M537.1 418.7C538.0 418.3 540.5 416.6 542.8 416.4C545.1 416.2 548.5 416.0 550.8 417.5C553.1 419.0 555.4 422.2 556.5 425.5C557.6 428.8 558.0 433.2 557.6 437.0C557.2 440.8 555.7 444.5 554.2 448.3C552.7 452.1 550.1 454.9 548.5 459.7C546.9 464.4 545.3 472.1 544.5 476.8C543.7 481.5 543.5 484.6 543.8 488.0C544.0 491.4 545.0 494.5 546.0 497.0C547.0 499.5 547.3 498.2 549.6 503.0C551.9 507.8 556.3 518.0 559.9 525.6C563.5 533.2 567.5 541.5 571.3 548.4C575.1 555.2 580.3 561.6 582.7 566.7C585.1 571.8 585.7 575.8 585.6 579.2C585.5 582.6 584.0 584.9 582.2 587.2C580.4 589.5 577.5 591.6 574.7 592.9C571.9 594.2 567.1 594.8 565.6 595.2" />
<path d="M557.6 389.0C557.6 386.2 557.6 375.2 557.8 372.0C558.0 368.8 557.9 370.2 558.6 369.8C559.3 369.4 561.6 369.5 562.2 369.4" />
<path d="M556.2 410.0C556.3 408.3 556.4 403.2 556.8 400.0C557.1 396.8 557.6 393.2 558.3 391.0C559.0 388.8 560.0 387.9 561.0 387.0C562.0 386.1 563.3 385.6 564.5 385.8C565.7 386.0 566.9 387.1 568.0 388.0C569.1 388.9 570.1 390.4 571.0 391.5C571.9 392.6 573.2 394.2 573.6 394.7" />
<path d="M563.6 392.0C563.5 393.7 563.4 398.8 563.2 402.0C563.0 405.2 562.5 409.5 562.4 411.0" />
<ellipse cx="602.7" cy="386.5" rx="31" ry="32.5"/>
<path d="M588.4 418.5C588.3 419.2 588.7 421.1 588.0 423.0C587.3 424.9 585.5 427.5 584.0 430.0C582.5 432.5 580.8 434.8 579.3 438.0C577.8 441.2 576.0 445.9 574.7 449.5C573.4 453.1 572.2 456.1 571.3 459.7C570.3 463.3 569.6 466.4 569.0 471.1C568.4 475.9 568.0 483.4 567.9 488.2C567.8 493.0 568.1 496.8 568.5 500.0C568.9 503.2 569.9 506.2 570.2 507.4" />
<path d="M579.5 417.5C580.0 419.0 582.5 424.1 582.2 426.7C582.0 429.3 578.7 431.9 578.0 433.0" />
<path d="M610.1 419.8C610.0 420.9 608.9 423.8 609.5 426.7C610.1 429.6 611.7 432.8 613.5 437.0C615.3 441.2 617.9 446.7 620.4 451.8C622.9 456.9 626.3 462.9 628.3 467.7C630.3 472.4 631.5 476.6 632.3 480.3C633.1 484.0 633.1 487.2 632.9 490.0C632.7 492.8 632.0 493.1 631.2 497.1C630.4 501.1 629.0 510.8 628.3 514.2C627.6 517.6 627.4 517.0 627.2 517.6" />
<path d="M595.8 441.5C596.5 441.7 598.0 440.5 599.8 442.6C601.6 444.7 604.4 449.2 606.7 454.0C609.0 458.8 611.2 465.4 613.5 471.1C615.8 476.8 618.7 483.4 620.4 488.2C622.1 493.0 622.6 495.0 623.8 499.7C625.0 504.4 627.1 513.7 627.8 516.5" />
<path d="M586.7 475.1C587.8 477.2 590.8 483.4 593.0 488.0C595.2 492.6 597.1 497.5 599.8 502.8C602.5 508.1 606.5 515.1 609.0 519.9C611.5 524.6 612.4 528.2 614.7 531.3C617.0 534.3 620.1 536.7 622.6 538.2C625.1 539.7 625.7 539.9 629.5 540.4C633.3 540.9 639.9 540.9 645.4 541.0C650.9 541.1 655.6 541.2 662.8 541.3C670.0 541.3 681.8 541.6 688.4 541.3C695.0 540.9 698.9 539.4 702.7 539.2C706.5 539.0 708.8 539.5 711.2 539.9C713.6 540.2 716.0 541.1 717.0 541.3" />
<path d="M545.7 534.7 L561.1 534.7 L560.5 586.0 L545.5 586.0" />
<path d="M546.0 547.3 L560.8 547.3" />
<path d="M548.5 536.0 L548.5 585.0" stroke-width="1"/>
<circle cx="554.2" cy="567.2" r="1.3"/></g></g></g>
<g transform="matrix(1.005 0 0 0.979 -11 660.29)"><path d="M546.8 351.4C546.1 353.3 543.9 355.7 542.5 363.0C541.1 370.3 539.5 383.8 538.5 395.0C537.5 406.2 536.7 418.3 536.2 430.0C535.7 441.7 535.5 455.0 535.6 465.0C535.7 475.0 536.5 481.8 537.0 490.0C537.5 498.2 538.0 504.3 538.8 514.0C539.6 523.7 540.9 536.5 541.7 548.0C542.5 559.5 542.9 574.3 543.4 583.0C543.9 591.7 544.3 597.2 544.5 600.0" stroke-width="2.2"/>
<path d="M546.8 351.4C548.0 351.7 551.6 351.8 554.2 353.1C556.8 354.4 560.1 356.2 562.2 359.4C564.3 362.5 565.8 367.6 566.8 372.0C567.8 376.4 568.0 381.9 568.5 385.6C569.0 389.3 569.8 392.6 570.0 394.0" />
<path d="M545.7 354.8C545.5 358.0 544.6 367.5 544.5 374.2C544.4 380.9 544.6 390.1 545.2 395.0C545.8 399.9 546.5 401.3 548.0 403.5C549.5 405.7 551.7 406.1 554.2 408.4C556.8 410.7 560.8 414.4 563.3 417.5C565.8 420.6 567.7 423.4 569.0 426.7C570.3 429.9 571.1 433.4 571.3 437.0C571.5 440.6 571.2 444.5 570.2 448.3C569.2 452.1 567.1 454.9 565.6 459.7C564.1 464.4 562.2 471.8 561.5 476.8C560.8 481.9 561.2 486.6 561.5 490.0C561.8 493.4 561.9 494.9 563.0 497.0C564.1 499.1 565.2 498.0 567.9 502.8C570.6 507.6 575.5 518.4 579.3 525.6C583.1 532.8 587.5 540.0 590.7 546.1C593.9 552.2 596.9 557.0 598.7 562.1C600.5 567.2 601.3 572.5 601.5 576.9C601.7 581.3 601.0 584.7 599.8 588.3C598.6 591.9 596.8 596.1 594.1 598.6C591.5 601.1 586.9 602.2 583.9 603.2C580.9 604.2 577.2 604.6 575.9 604.9" />
<path d="M550.2 403.5C551.2 404.3 553.9 406.1 556.4 408.4C559.0 410.7 563.0 414.4 565.5 417.5C568.0 420.6 569.9 423.4 571.2 426.7C572.5 429.9 573.3 433.4 573.5 437.0C573.7 440.6 573.4 444.5 572.4 448.3C571.5 452.1 569.3 454.9 567.8 459.7C566.4 464.4 564.4 471.8 563.7 476.8C563.0 481.9 563.5 486.6 563.7 490.0C564.0 493.4 564.1 494.9 565.2 497.0C566.3 499.1 567.4 498.0 570.1 502.8C572.8 507.6 577.7 518.4 581.5 525.6C585.3 532.8 589.7 540.0 592.9 546.1C596.1 552.2 599.1 557.0 600.9 562.1C602.7 567.2 603.5 572.5 603.7 576.9C603.9 581.3 602.3 586.4 602.0 588.3" />
<path d="M537.1 418.7C538.0 418.3 540.5 416.6 542.8 416.4C545.1 416.2 548.5 416.0 550.8 417.5C553.1 419.0 555.4 422.2 556.5 425.5C557.6 428.8 558.0 433.2 557.6 437.0C557.2 440.8 555.7 444.5 554.2 448.3C552.7 452.1 550.1 454.9 548.5 459.7C546.9 464.4 545.3 472.1 544.5 476.8C543.7 481.5 543.5 484.6 543.8 488.0C544.0 491.4 545.0 494.5 546.0 497.0C547.0 499.5 547.3 498.2 549.6 503.0C551.9 507.8 556.3 518.0 559.9 525.6C563.5 533.2 567.5 541.5 571.3 548.4C575.1 555.2 580.3 561.6 582.7 566.7C585.1 571.8 585.7 575.8 585.6 579.2C585.5 582.6 584.0 584.9 582.2 587.2C580.4 589.5 577.5 591.6 574.7 592.9C571.9 594.2 567.1 594.8 565.6 595.2" />
<path d="M557.6 389.0C557.6 386.2 557.6 375.2 557.8 372.0C558.0 368.8 557.9 370.2 558.6 369.8C559.3 369.4 561.6 369.5 562.2 369.4" />
<path d="M556.2 410.0C556.3 408.3 556.4 403.2 556.8 400.0C557.1 396.8 557.6 393.2 558.3 391.0C559.0 388.8 560.0 387.9 561.0 387.0C562.0 386.1 563.3 385.6 564.5 385.8C565.7 386.0 566.9 387.1 568.0 388.0C569.1 388.9 570.1 390.4 571.0 391.5C571.9 392.6 573.2 394.2 573.6 394.7" />
<path d="M563.6 392.0C563.5 393.7 563.4 398.8 563.2 402.0C563.0 405.2 562.5 409.5 562.4 411.0" />
<ellipse cx="602.7" cy="386.5" rx="31" ry="32.5"/>
<path d="M588.4 418.5C588.3 419.2 588.7 421.1 588.0 423.0C587.3 424.9 585.5 427.5 584.0 430.0C582.5 432.5 580.8 434.8 579.3 438.0C577.8 441.2 576.0 445.9 574.7 449.5C573.4 453.1 572.2 456.1 571.3 459.7C570.3 463.3 569.6 466.4 569.0 471.1C568.4 475.9 568.0 483.4 567.9 488.2C567.8 493.0 568.1 496.8 568.5 500.0C568.9 503.2 569.9 506.2 570.2 507.4" />
<path d="M579.5 417.5C580.0 419.0 582.5 424.1 582.2 426.7C582.0 429.3 578.7 431.9 578.0 433.0" />
<path d="M610.1 419.8C610.0 420.9 608.9 423.8 609.5 426.7C610.1 429.6 611.7 432.8 613.5 437.0C615.3 441.2 617.9 446.7 620.4 451.8C622.9 456.9 626.3 462.9 628.3 467.7C630.3 472.4 631.5 476.6 632.3 480.3C633.1 484.0 633.1 487.2 632.9 490.0C632.7 492.8 632.0 493.1 631.2 497.1C630.4 501.1 629.0 510.8 628.3 514.2C627.6 517.6 627.4 517.0 627.2 517.6" />
<path d="M595.8 441.5C596.5 441.7 598.0 440.5 599.8 442.6C601.6 444.7 604.4 449.2 606.7 454.0C609.0 458.8 611.2 465.4 613.5 471.1C615.8 476.8 618.7 483.4 620.4 488.2C622.1 493.0 622.6 495.0 623.8 499.7C625.0 504.4 627.1 513.7 627.8 516.5" />
<path d="M586.7 475.1C587.8 477.2 590.8 483.4 593.0 488.0C595.2 492.6 597.1 497.5 599.8 502.8C602.5 508.1 606.5 515.1 609.0 519.9C611.5 524.6 612.4 528.2 614.7 531.3C617.0 534.3 620.1 536.7 622.6 538.2C625.1 539.7 625.7 539.9 629.5 540.4C633.3 540.9 639.9 540.9 645.4 541.0C650.9 541.1 655.6 541.2 662.8 541.3C670.0 541.3 681.8 541.6 688.4 541.3C695.0 540.9 698.9 539.4 702.7 539.2C706.5 539.0 708.8 539.5 711.2 539.9C713.6 540.2 716.0 541.1 717.0 541.3" />
<path d="M545.7 534.7 L561.1 534.7 L560.5 586.0 L545.5 586.0" />
<path d="M546.0 547.3 L560.8 547.3" />
<path d="M548.5 536.0 L548.5 585.0" stroke-width="1"/>
<circle cx="554.2" cy="567.2" r="1.3"/>
<path d="M627.2 517.6C628.3 517.8 631.6 518.4 634.0 518.8C636.4 519.2 638.5 519.4 641.4 520.0C644.2 520.6 647.5 521.2 651.1 522.2C654.7 523.2 658.0 524.3 662.8 525.7C667.6 527.1 675.1 530.0 679.9 530.6C684.6 531.2 687.0 529.8 691.3 529.2C695.6 528.6 701.0 527.0 705.5 527.1C710.0 527.2 715.1 528.1 718.4 529.9C721.7 531.7 724.2 535.9 725.5 537.8C726.8 539.7 726.1 540.7 726.2 541.3" />
<rect x="700.5" y="541.3" width="97.7" height="9.3"/>
<path d="M697.7 569.1C699.5 569.7 704.4 571.4 708.4 572.7C712.4 574.0 718.2 575.6 722.0 577.0C725.8 578.4 728.7 579.4 731.2 581.3C733.7 583.2 735.7 585.3 736.9 588.4C738.1 591.5 738.1 596.2 738.3 599.8C738.5 603.4 738.2 600.5 738.1 610.0C738.0 619.5 737.6 640.6 737.5 657.0C737.4 673.4 737.0 697.8 737.5 708.3C738.0 718.8 737.6 715.9 740.4 719.7C743.1 723.5 748.9 728.1 754.0 731.1C759.1 734.1 766.5 736.3 771.1 738.0C775.7 739.7 779.4 740.3 781.4 741.4C783.4 742.5 782.8 744.2 783.1 744.8" />
<path d="M709.8 612.0C709.8 615.0 709.6 623.5 709.6 630.0C709.6 636.5 709.0 644.9 709.8 651.3C710.5 657.7 712.6 662.7 714.1 668.4C715.6 674.1 717.6 679.8 718.7 685.5C719.9 691.2 720.7 696.9 721.0 702.6C721.3 708.3 721.0 715.1 720.4 719.7C719.8 724.3 717.6 727.1 717.5 730.0C717.4 732.9 719.2 734.3 719.8 736.8C720.4 739.3 720.8 743.5 721.0 744.8" />
<path d="M732.4 744.8C732.6 744.2 732.2 741.9 733.5 741.4C734.8 740.9 737.7 741.4 740.4 742.0C743.1 742.6 748.0 744.3 749.5 744.8" />
<rect x="629.3" y="543.5" width="35.2" height="5.3" rx="2.6"/>
<path d="M632.0 546.2 L662.0 546.2" stroke-width="1"/>
<path d="M631.4 549.2C631.7 549.8 632.3 551.6 633.0 553.0C633.7 554.4 635.2 556.8 635.7 557.5" />
<path d="M648.5 549.2C648.3 549.8 647.9 551.6 647.5 553.0C647.1 554.4 646.6 556.8 646.4 557.5" />
<rect x="606.8" y="558.1" width="91.2" height="11.2" rx="5"/>
<path d="M609.0 562.3 L695.0 562.3" stroke-width="1.1"/>
<path d="M646.0 569.3 L647.1 641.1" />
<path d="M671.3 569.3C670.7 570.8 668.4 575.2 667.5 578.0C666.6 580.8 666.3 575.5 666.0 586.0C665.7 596.5 665.7 631.9 665.6 641.1" />
<path d="M653.5 574.1 L663.5 574.1" stroke-width="2"/>
<rect x="646.4" y="641.1" width="19.3" height="13.6"/>
<path d="M646.4 648.0 L665.7 648.0" />
<path d="M576.0 604.0C578.3 604.7 585.7 607.2 590.0 608.0C594.3 608.8 597.5 609.3 602.0 608.5C606.5 607.7 611.7 605.4 617.0 603.0C622.3 600.6 629.2 595.8 634.0 594.0C638.8 592.2 644.0 592.6 646.0 592.3" />
<path d="M578.0 606.5C581.7 607.2 593.5 611.1 600.0 611.0C606.5 610.9 611.3 608.2 617.0 606.0C622.7 603.8 629.2 599.7 634.0 598.0C638.8 596.3 644.0 596.3 646.0 596.0" />
<path d="M600.0 614.0C603.3 613.8 614.3 614.2 620.0 612.6C625.7 611.0 629.7 606.2 634.0 604.5C638.3 602.8 644.0 602.9 646.0 602.6" />
<path d="M666.0 592.5C669.0 593.2 678.8 594.8 684.0 597.0C689.2 599.2 693.7 602.7 697.0 605.5C700.3 608.3 702.3 610.9 704.0 614.0C705.7 617.1 706.7 621.2 707.0 624.0C707.3 626.8 706.8 629.1 706.0 631.0C705.2 632.9 703.9 634.6 702.0 635.5C700.1 636.4 695.9 636.3 694.7 636.5" />
<path d="M666.0 603.4C668.3 603.6 675.8 603.6 680.0 604.6C684.2 605.6 688.3 607.4 691.3 609.1C694.3 610.8 696.4 612.9 698.0 615.0C699.6 617.1 700.5 619.7 700.8 622.0C701.0 624.3 699.7 627.8 699.5 629.0" />
<path d="M594.0 636.3 L646.0 636.3" />
<path d="M665.6 636.5 L694.7 636.5" />
<path d="M699.8 611.2 L709.8 611.2 L709.1 628.3" />
<path d="M545.0 586.0 L545.0 600.0" />
<path d="M562.8 586.0 L563.9 600.9" />
<circle cx="557.9" cy="624.5" r="1.3"/>
<path d="M544.7 608.0 L545.9 634.2 L550.4 634.8" stroke-width="1"/>
<path d="M563.0 604.6C564.5 606.3 569.1 611.8 572.1 614.8C575.1 617.8 578.4 620.1 581.2 622.8C584.1 625.5 586.7 628.3 589.2 630.8C591.7 633.3 595.0 636.5 596.1 637.6" />
<path d="M569.8 602.3C571.3 603.8 575.8 608.4 578.9 611.4C582.0 614.4 585.4 617.6 588.1 620.5C590.8 623.4 593.2 626.0 594.9 628.5C596.6 631.0 597.7 634.2 598.3 635.4" />
<path d="M588.4 614.6 L611.2 616.3 L614.7 624.8 L593.0 622.6" />
<path d="M578.0 607.0 L600.0 610.0" />
<path d="M596.1 639.9 L601.6 636.3" />
<rect x="601.6" y="636.3" width="14.5" height="12.5"/>
<path d="M601.8 641.0C603.0 641.3 606.4 643.0 608.8 643.0C611.1 643.0 614.7 641.3 615.9 641.0" stroke-width="1.3"/>
<path d="M601.8 646.5C603.0 646.8 606.4 648.2 608.8 648.2C611.1 648.2 614.7 646.8 615.9 646.5" stroke-width="1.3"/>
<path d="M600.7 648.8 L600.7 672.0" />
<path d="M616.4 648.8 L616.4 672.0" />
<path d="M600.7 672.0C602.0 672.3 605.9 673.6 608.5 673.6C611.1 673.6 615.1 672.3 616.4 672.0" />
<path d="M623.1 640.0C623.2 641.0 622.9 644.4 623.5 646.0C624.1 647.6 625.2 648.8 627.0 649.4C628.8 650.0 632.2 650.0 634.0 649.4C635.8 648.8 637.0 647.6 637.6 646.0C638.2 644.4 637.6 641.0 637.6 640.0" />
<path d="M602.6 676.0 L605.2 741.4" />
<path d="M617.1 676.0 L620.0 741.4" />
<path d="M607.7 676.8 L609.4 716.0" stroke-width="1.1"/>
<path d="M612.8 676.8 L613.7 716.0" stroke-width="1.1"/>
<path d="M599.0 678.0 L598.2 689.0" stroke-width="1"/>
<path d="M618.8 677.5 L620.4 689.0" stroke-width="1"/>
<path d="M604.6 716.3 L619.2 716.3 L620 736.8 L605.6 736.8Z" fill="#2e2e2e" stroke="#2a2a2a" stroke-width="1"/>
<rect x="607.6" y="718.5" width="2" height="2.2" fill="#f2f2f2" stroke="none"/>
<rect x="611.9" y="718.5" width="2" height="2.2" fill="#f2f2f2" stroke="none"/>
<rect x="616.2" y="718.5" width="2" height="2.2" fill="#f2f2f2" stroke="none"/>
<rect x="607.8" y="723" width="2" height="2.2" fill="#f2f2f2" stroke="none"/>
<rect x="612.1" y="723" width="2" height="2.2" fill="#f2f2f2" stroke="none"/>
<rect x="616.4" y="723" width="2" height="2.2" fill="#f2f2f2" stroke="none"/>
<rect x="608.0" y="727.5" width="2" height="2.2" fill="#f2f2f2" stroke="none"/>
<rect x="612.3" y="727.5" width="2" height="2.2" fill="#f2f2f2" stroke="none"/>
<rect x="616.6" y="727.5" width="2" height="2.2" fill="#f2f2f2" stroke="none"/>
<rect x="608.1" y="732" width="2" height="2.2" fill="#f2f2f2" stroke="none"/>
<rect x="612.4" y="732" width="2" height="2.2" fill="#f2f2f2" stroke="none"/>
<rect x="616.7" y="732" width="2" height="2.2" fill="#f2f2f2" stroke="none"/>
<path d="M605.2 741.4 L620.0 741.4" />
<rect x="603.5" y="748.2" width="19.4" height="20.6" rx="4.5" stroke-width="2"/>
<path d="M606.0 742.0 L605.0 748.0" />
<path d="M619.5 742.0 L620.5 748.0" />
<path d="M599.0 672.3 L517.0 690.0" />
<path d="M598.2 680.5 L515.3 698.0 L513.6 701.8 L522.1 704.8 L598.2 689.0" />
<path d="M517.8 690 L543.5 684.6 L543.5 692.2 L516.5 697.8Z" fill="#2e2e2e" stroke="none"/>
<path d="M520.0 695.5 L522.6 690.3" stroke="#f2f2f2" stroke-width="1.2"/>
<path d="M524.2 694.6 L526.8 689.4" stroke="#f2f2f2" stroke-width="1.2"/>
<path d="M528.4 693.7 L531.0 688.5" stroke="#f2f2f2" stroke-width="1.2"/>
<path d="M532.6 692.8 L535.2 687.6" stroke="#f2f2f2" stroke-width="1.2"/>
<path d="M536.8 691.9 L539.4 686.7" stroke="#f2f2f2" stroke-width="1.2"/>
<path d="M541.0 691.0 L543.6 685.8" stroke="#f2f2f2" stroke-width="1.2"/>
<path d="M517.0 690.0 L515.3 698.0" />
<circle cx="514.5" cy="717" r="7.3" stroke-width="2"/>
<path d="M516.0 704.5 L517.0 710.5" />
<path d="M522.0 705.0 L523.0 712.0" />
<path d="M574.2 658.2 L599.9 666.8" />
<path d="M570.0 662.5 L599.0 670.2" />
<circle cx="564.8" cy="669.4" r="3.6" stroke-width="1.8"/>
<path d="M559 656.5 Q558.5 650.5 564 650.5 Q570 651 571 655 L568 658.2 Z" fill="#222"/>
<path d="M617.1 671.7 L705.2 691.3 L706.1 701.6 L696.7 701.6 L618.8 689.6" />
<path d="M618.8 680.2 L701.8 695.6 L705.2 691.3" />
<path d="M677 685.8 L705.2 691.3 L701.8 695.6 L677 690.8Z" fill="#2e2e2e" stroke="none"/>
<path d="M679.5 691.0 L682.1 686.8" stroke="#f2f2f2" stroke-width="1.2"/>
<path d="M683.7 691.9 L686.3 687.6" stroke="#f2f2f2" stroke-width="1.2"/>
<path d="M687.9 692.7 L690.5 688.5" stroke="#f2f2f2" stroke-width="1.2"/>
<path d="M692.1 693.5 L694.7 689.3" stroke="#f2f2f2" stroke-width="1.2"/>
<path d="M696.3 694.4 L698.9 690.2" stroke="#f2f2f2" stroke-width="1.2"/>
<path d="M700.5 695.2 L703.1 691.0" stroke="#f2f2f2" stroke-width="1.2"/>
<rect x="692" y="706.7" width="15.8" height="15.4" rx="3.5" stroke-width="2"/>
<path d="M697.0 701.6 L697.0 706.7" />
<path d="M705.5 701.6 L705.5 706.7" />
<path d="M617.1 664.0 L642.8 653.7" />
<path d="M617.1 670.0 L654.7 656.3" />
<circle cx="653.9" cy="668.2" r="5.6" stroke-width="1.8"/>
<path d="M648.0 663.0C648.8 662.8 651.0 661.3 653.0 661.5C655.0 661.7 658.8 663.6 660.0 664.0" />
<path d="M574.2 654.0 L601.6 645.4" />
<path d="M574.2 651.4 L599.9 642.8" />
<path d="M541.3 619.0C541.3 621.1 540.7 628.8 541.3 631.9C541.9 635.0 541.6 636.5 544.7 637.6C547.8 638.7 551.4 638.2 560.0 638.6C568.6 639.0 590.1 639.7 596.1 639.9"/></g>
<path d="M484.9 1199.9C486.7 1201.9 491.7 1206.6 495.9 1211.9C500.1 1217.2 505.1 1226.2 509.9 1231.9C514.7 1237.6 519.8 1242.0 524.8 1245.8C529.8 1249.6 535.6 1252.5 539.8 1254.8C544.0 1257.1 548.1 1259.0 549.8 1259.8" stroke-dasharray="2.1 2.2" stroke-width="1.85"/>
<path d="M483.9 1203.9C487.2 1205.2 497.9 1208.2 503.9 1211.9C509.9 1215.6 514.6 1221.6 519.8 1225.9C524.9 1230.2 530.6 1234.6 534.8 1237.9C539.0 1241.2 543.1 1244.5 544.8 1245.8" stroke-dasharray="2.1 2.2" stroke-width="1.85"/>
<path d="M489.9 1218.9C492.9 1220.2 501.9 1223.4 507.9 1226.9C513.9 1230.4 520.5 1236.4 525.8 1239.9C531.1 1243.4 535.8 1245.8 539.8 1247.8C543.8 1249.8 548.1 1251.1 549.8 1251.8" stroke-dasharray="2.1 2.2" stroke-width="1.85"/>
<path d="M469.9 1237.9C474.1 1239.6 486.6 1244.5 494.9 1247.8C503.2 1251.1 514.0 1254.8 519.8 1257.8C525.6 1260.8 526.5 1263.8 529.8 1265.8C533.1 1267.8 537.1 1269.3 539.8 1269.8C542.5 1270.3 544.8 1269.0 545.8 1268.8" stroke-dasharray="2.1 2.2" stroke-width="1.85"/>
<path d="M489.9 1229.9C493.2 1231.2 503.2 1234.9 509.9 1237.9C516.5 1240.9 524.0 1244.7 529.8 1247.8C535.6 1250.9 542.3 1255.3 544.8 1256.8" stroke-dasharray="2.1 2.2" stroke-width="1.85"/>
<path d="M499.9 1195.9C502.4 1197.9 509.9 1202.9 514.9 1207.9C519.9 1212.9 525.6 1220.6 529.8 1225.9C533.9 1231.2 536.8 1234.9 539.8 1239.9C542.8 1244.9 546.5 1253.2 547.8 1255.8" stroke-dasharray="2.1 2.2" stroke-width="1.85"/>
<path d="M411.2 1145.8C413.5 1145.5 420.5 1144.3 425.0 1144.2C429.5 1144.1 435.9 1144.8 438.1 1144.9" />
<path d="M436.2 1170.8 L457.5 1171.7" />
<path d="M463.1 1203.2 L485.4 1202.3" />
<path d="M289.5 1094 A180.6 160.8 0 0 1 580.1 961.5" stroke-width="5.2" stroke="#2b2b2b" stroke-linecap="butt"/>
<path d="M282.2 1098.1 L298.9 1095.1 L293.5 1112.9Z" fill="#2b2b2b" stroke="#2b2b2b" stroke-width="1"/>
<path d="M584.7 957.1 L575.6 969.6 L593.6 973Z" fill="#2b2b2b" stroke="#2b2b2b" stroke-width="1"/>
<path d="M201.0 1386.3 L259.8 1386.8" stroke-width="1.7"/>
<path d="M463.5 1389.3 L1227.0 1393.3" stroke-width="1.7"/>
<path d="M475.5 1336 A108 103 0 1 1 466 1300" stroke-width="1.7"/>
<path d="M467.8 1304.5C473.2 1303.2 488.5 1299.8 500.0 1297.0C511.5 1294.2 522.8 1291.6 536.8 1288.0C550.8 1284.4 575.0 1278.2 583.9 1275.5C592.8 1272.8 589.0 1272.6 590.0 1272.0" />
<path d="M489.8 1333.5C493.2 1331.1 502.2 1324.2 510.0 1319.0C517.8 1313.8 527.6 1307.6 536.8 1302.1C546.0 1296.6 556.1 1291.2 565.0 1286.0C573.9 1280.8 585.8 1273.5 590.0 1271.0" />
<rect x="453.7" y="1305.3" width="47.8" height="6.2" rx="3"/>
<path d="M456.0 1308.0 L499.0 1308.0" stroke-width="1"/>
<path d="M455.3 1311.5C455.5 1312.4 456.0 1315.2 456.5 1317.0C457.0 1318.8 458.1 1321.6 458.4 1322.5" />
<path d="M480.4 1311.5C480.2 1312.4 479.5 1315.2 479.0 1317.0C478.5 1318.8 477.5 1321.6 477.2 1322.5" />
<path d="M497.6 1324.1 L428 1324.1 A5 7 0 0 0 428 1338.2 L497.6 1338.2" />
<path d="M428.0 1329.0 L495.0 1329.0" stroke-width="1.1"/>
<path d="M452.9 1281.7 L452.9 1317.8" />
<path d="M475.7 1339.8C475.2 1342.3 473.8 1350.0 473.0 1355.0C472.2 1360.0 471.3 1367.5 471.0 1370.0" />
<path d="M327.3 1247.6C328.1 1254.1 331.0 1274.2 332.0 1286.8C333.0 1299.4 333.0 1310.8 333.5 1323.0C334.0 1335.2 334.9 1350.3 335.2 1360.0C335.5 1369.7 335.2 1377.8 335.2 1381.3" />
<path d="M329.5 1247.6C330.3 1254.1 333.2 1274.2 334.2 1286.8C335.2 1299.4 335.2 1310.8 335.7 1323.0C336.2 1335.2 337.1 1350.3 337.4 1360.0C337.7 1369.7 337.4 1377.8 337.4 1381.3" stroke-width="1.1"/>
<path d="M338.7 1243.4C339.9 1246.3 342.6 1254.6 345.9 1261.0C349.2 1267.4 353.6 1273.4 358.3 1281.7C363.0 1290.0 369.0 1302.0 373.8 1310.6C378.6 1319.2 384.0 1327.3 387.3 1333.3C390.6 1339.3 392.3 1342.5 393.5 1346.8C394.7 1351.1 395.2 1356.0 394.5 1358.9C393.8 1361.8 392.0 1362.2 389.4 1364.0C386.8 1365.8 383.0 1368.2 379.0 1369.5C375.0 1370.8 367.8 1371.3 365.6 1371.7" />
<path d="M359.4 1240.3C360.6 1243.8 363.3 1254.6 366.6 1261.0C369.9 1267.4 374.8 1272.6 379.0 1278.6C383.2 1284.6 388.3 1290.8 392.0 1297.0C395.7 1303.2 398.4 1310.5 401.0 1316.0C403.6 1321.5 405.3 1325.7 407.3 1330.0C409.3 1334.3 411.6 1338.0 413.0 1342.0C414.4 1346.0 415.3 1349.3 415.4 1354.0C415.5 1358.7 415.1 1366.1 413.8 1370.1C412.5 1374.1 410.5 1376.0 407.3 1378.1C404.1 1380.2 399.6 1381.6 394.5 1382.9C389.4 1384.2 379.8 1385.6 376.9 1386.1" />
<path d="M361.7 1239.8C362.9 1243.2 365.6 1254.1 368.9 1260.5C372.2 1266.9 377.1 1272.1 381.3 1278.1C385.5 1284.1 390.6 1290.3 394.3 1296.5C398.0 1302.7 400.8 1310.0 403.3 1315.5C405.9 1321.0 407.6 1325.2 409.6 1329.5C411.6 1333.8 414.0 1337.5 415.3 1341.5C416.6 1345.5 417.6 1348.8 417.7 1353.5C417.8 1358.2 417.5 1365.6 416.1 1369.6C414.8 1373.6 410.7 1376.3 409.6 1377.6" stroke-width="1.1"/>
<path d="M370.7 1240.3C370.6 1241.9 370.2 1246.5 370.0 1250.0C369.8 1253.5 369.8 1259.2 369.7 1261.0" />
<path d="M380.0 1281.7C382.0 1284.8 387.8 1293.6 392.0 1300.0C396.2 1306.4 401.8 1313.3 405.0 1320.0C408.2 1326.7 410.3 1336.7 411.4 1340.0" />
<path d="M413.8 1247.6C414.8 1250.0 417.1 1256.4 420.0 1262.0C422.9 1267.6 428.1 1276.3 431.4 1281.3C434.7 1286.3 437.3 1289.3 440.0 1292.0C442.7 1294.7 444.4 1296.0 447.4 1297.2C450.4 1298.4 455.1 1299.0 458.0 1299.3C460.9 1299.6 463.8 1299.3 465.0 1299.3" />
<path d="M337.7 1292.0 L358.3 1292.0 L360.8 1360.2 L338.4 1360.2" />
<path d="M337.7 1292.0 L335.5 1360.0" />
<path d="M340.8 1307.5 L340.8 1294.1 L355.8 1294.1 L356.5 1307.5" stroke-width="1.1"/>
<path d="M337.5 1307.5 L359.0 1307.5" />
<path d="M340.0 1309.0 L341.0 1359.0" stroke-width="1"/>
<path d="M356.5 1309.0 L358.5 1359.0" stroke-width="1"/>
<circle cx="349" cy="1335.4" r="2.3"/>
<path d="M338.4 1360.5 L335.2 1381.3" />
<path d="M361.6 1360.5 L364.0 1378.1" />
<path d="M335.2 1378.1 L364.0 1378.1" />
<path d="M330.4 1384.5C330.3 1386.2 329.6 1389.9 329.6 1395.0C329.6 1400.1 330.1 1409.5 330.5 1415.0C330.9 1420.5 330.7 1425.1 332.0 1427.8C333.3 1430.5 332.1 1430.3 338.4 1431.0C344.7 1431.7 360.4 1431.7 370.0 1432.0C379.6 1432.3 391.8 1432.5 396.1 1432.6" />
<path d="M330.4 1384.5 L341.6 1385.3" />
<path d="M357.6 1385.3 L364.0 1384.8" />
<path d="M341.6 1386.1 L344.8 1403.0 L356.0 1403.0 L357.6 1385.3" />
<circle cx="353.6" cy="1411.8" r="1.9"/>
<path d="M333.6 1389.3 L335.2 1424.6 L342.4 1426.2" stroke-width="1.1"/>
<path d="M365.6 1381.3C367.5 1384.0 373.1 1392.6 376.9 1397.4C380.6 1402.2 384.6 1407.0 388.1 1410.2C391.6 1413.4 394.8 1415.0 397.7 1416.6C400.6 1418.2 404.4 1419.3 405.7 1419.8" />
<path d="M362.0 1386.0C362.9 1387.3 364.0 1390.1 367.3 1394.1C370.6 1398.1 376.9 1405.7 381.7 1410.2C386.5 1414.7 392.6 1418.0 396.1 1421.0C399.6 1424.0 402.2 1426.1 402.5 1428.0C402.8 1429.9 398.8 1431.8 398.0 1432.6" />
<path d="M376.9 1386.1C380.6 1386.6 392.9 1388.5 399.3 1389.3C405.7 1390.1 408.7 1392.5 415.4 1390.9C422.1 1389.3 431.4 1383.2 439.4 1379.7C447.4 1376.2 458.1 1372.0 463.5 1370.1C468.9 1368.2 470.2 1368.8 471.5 1368.5" />
<path d="M376.9 1389.1C380.6 1389.6 392.9 1391.5 399.3 1392.3C405.7 1393.1 408.7 1395.5 415.4 1393.9C422.1 1392.3 431.4 1386.2 439.4 1382.7C447.4 1379.2 458.1 1375.0 463.5 1373.1C468.9 1371.2 470.2 1371.8 471.5 1371.5" stroke-width="1.1"/>
<path d="M380.0 1394.0C383.3 1394.5 393.7 1396.3 400.0 1397.0C406.3 1397.7 411.3 1398.8 418.0 1398.0C424.7 1397.2 432.5 1393.8 440.0 1392.0C447.5 1390.2 459.2 1387.8 463.0 1387.0" />
<path d="M400.9 1402.2 L429.8 1403.0 L433.0 1411.8 L404.1 1410.2" />
<path d="M404.1 1410.2 L406.0 1420.0 L408.0 1430.0" />
<path d="M415.4 1424.6 L431.4 1426.2" />
<path d="M367.3 1496.8 L410.0 1416.0" stroke-width="2.2"/>
<path d="M415.4 1407 L404.1 1416.6 L417 1422.2Z" fill="#1a1a1a" stroke="none"/>
</svg>
<div class="t b" style="left:168.8px;top:221.3px;font-size:52.9px;transform:scaleX(1.0501)">Въведение във функциите:</div>
<div class="t b" style="left:1072.5px;top:394.6px;font-size:26.2px;transform:scaleX(1.0420)">ВНИМАНИЕ!</div>
<div class="t b" style="left:786.6px;top:598.9px;font-size:28.2px;transform:scaleX(0.9797)">СТЪПКА 1:</div>
<div class="t" style="left:946.9px;top:596.8px;font-size:27.6px;transform:scaleX(1.0312)">Натиснете контролната</div>
<div class="t" style="left:948.0px;top:632.5px;font-size:27.6px;transform:scaleX(1.0212)">ръчка на основата</div>
<div class="t" style="left:948.0px;top:669.0px;font-size:27.6px;transform:scaleX(0.9914)">навътре, за да</div>
<div class="t" style="left:947.9px;top:704.9px;font-size:27.6px;transform:scaleX(1.0344)">заключите основата.</div>
<div class="t" style="left:230.5px;top:857.1px;font-size:27.3px;transform:scaleX(1.0387)">Контролна ръчка на основата</div>
<div class="t b" style="left:801.2px;top:1247.9px;font-size:28.2px;transform:scaleX(0.9805)">СТЪПКА 2:</div>
<div class="t" style="left:962.8px;top:1244.4px;font-size:27.6px;transform:scaleX(1.0111)">Облегнете се бавно</div>
<div class="t" style="left:962.8px;top:1280.8px;font-size:27.6px;transform:scaleX(1.0240)">назад, когато</div>
<div class="t" style="left:962.7px;top:1317.1px;font-size:27.6px;transform:scaleX(1.0409)">издърпате контролната</div>
<div class="t" style="left:962.8px;top:1354.2px;font-size:27.6px;transform:scaleX(1.0297)">ръчка за наклон.</div>
<div class="t" style="left:221.3px;top:1511.8px;font-size:27.3px;transform:scaleX(1.0340)">Контролна ръчка за наклон на облегалката</div>
<div class="t b" style="left:210.8px;top:1652.6px;font-size:32.2px;transform:scaleX(1.0969)">ВНИМАНИЕ!</div>
<div class="t" style="left:210.8px;top:1699.3px;font-size:32.8px;transform:scaleX(1.0870)">Моля, не се облягайте назад, преди да заключите основата.</div>
<div class="t" style="left:210.8px;top:1745.6px;font-size:32.8px;transform:scaleX(1.0985)">В противен случай съществува риск от преобръщане.</div>
</body></html>
